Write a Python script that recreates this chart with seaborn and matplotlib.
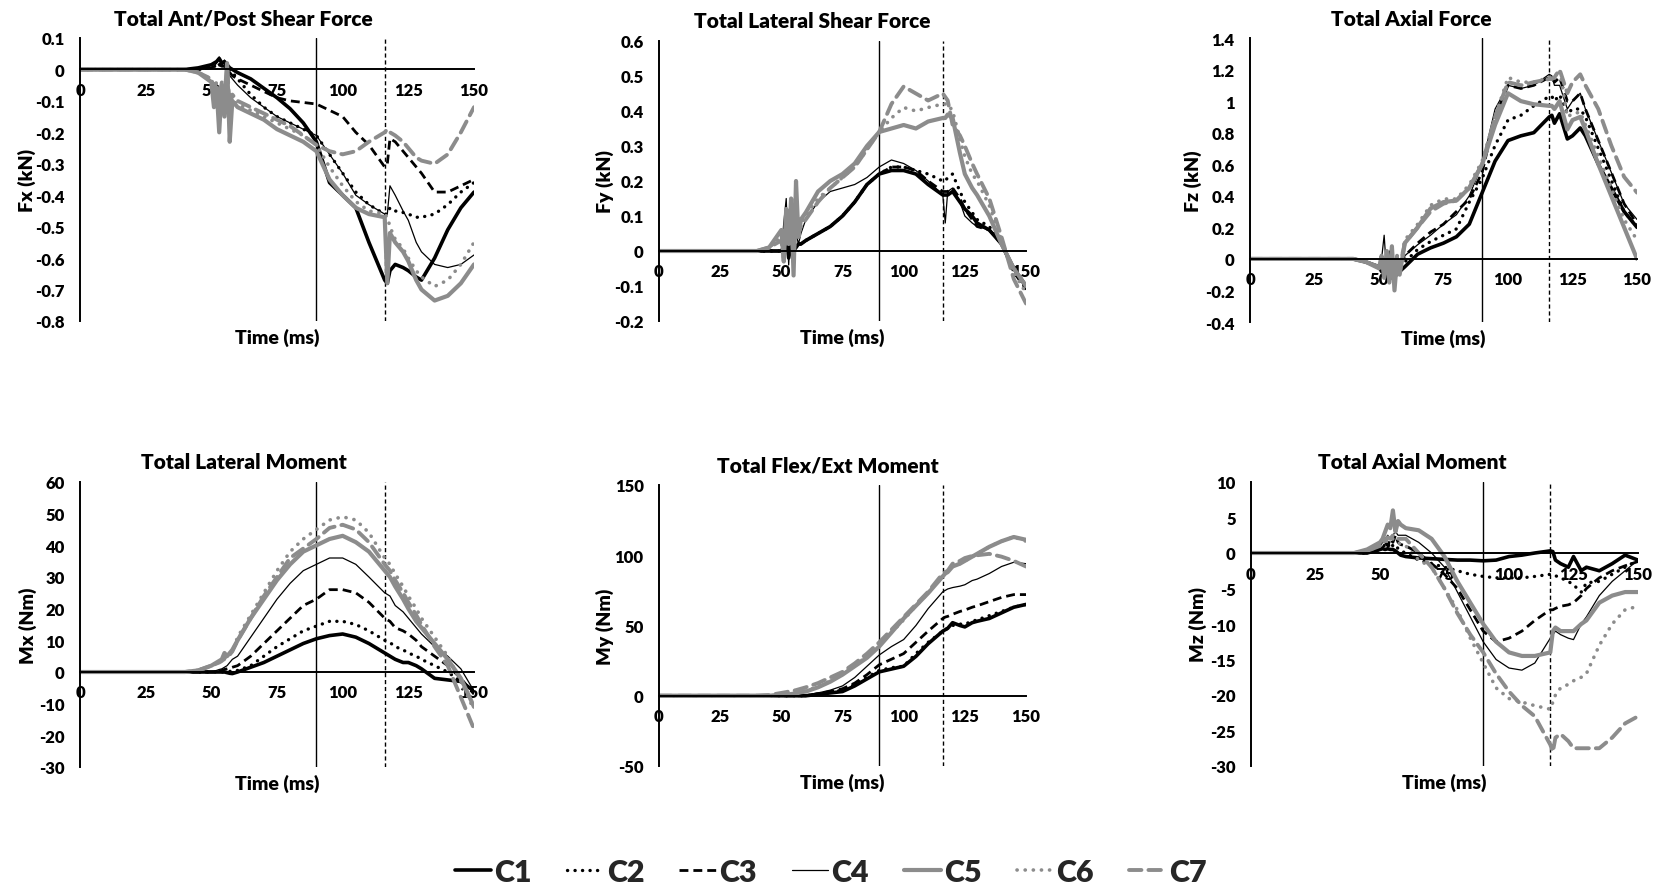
import matplotlib
matplotlib.use("Agg")
import matplotlib.pyplot as plt
import matplotlib.transforms as mtransforms
from matplotlib.lines import Line2D
import seaborn as sns

sns.set_theme(style="white")
plt.rcParams["font.family"] = ["Lato", "DejaVu Sans"]
plt.rcParams["font.weight"] = "heavy"

# Sample times (ms) shared by every curve
T = [0, 40, 45,
     50, 51, 52, 53, 54, 55, 56, 57, 58,
     60, 65, 70, 75, 80, 85,
     90, 95, 100, 105, 110,
     116, 117, 118, 120, 123, 125, 128, 130,
     135, 140, 145, 150]

SERIES = ["C1", "C2", "C3", "C4", "C5", "C6", "C7"]

# ---- Total Ant/Post Shear Force, Fx (kN)
fx_c1 = [0, 0, 0.005, 0.015, 0.02, 0.025, 0.035, 0.02, 0.025, 0.015, 0.005, 0.0,
         -0.01, -0.03, -0.06, -0.09, -0.125, -0.17, -0.23, -0.36, -0.40, -0.44, -0.55,
         -0.67, -0.68, -0.64, -0.62, -0.63, -0.64, -0.66, -0.67, -0.60, -0.51, -0.44, -0.39]
fx_c2 = [0, 0, 0, 0.005, 0.01, 0.01, 0.02, 0.01, 0.02, 0.01, 0, -0.01,
         -0.03, -0.08, -0.12, -0.15, -0.17, -0.19, -0.21, -0.27, -0.33, -0.39, -0.43,
         -0.46, -0.46, -0.44, -0.45, -0.455, -0.46, -0.47, -0.47, -0.46, -0.43, -0.39, -0.36]
fx_c3 = [0, 0, 0, 0.005, 0.01, 0.01, 0.015, 0.01, 0.01, 0.0, -0.01, -0.02,
         -0.03, -0.05, -0.07, -0.09, -0.10, -0.105, -0.11, -0.13, -0.15, -0.20, -0.24,
         -0.31, -0.30, -0.22, -0.23, -0.26, -0.28, -0.31, -0.33, -0.39, -0.39, -0.37, -0.35]
fx_c4 = [0, 0, 0, 0.005, 0.01, 0.02, 0.04, 0.01, 0.03, 0.0, -0.02, -0.03,
         -0.05, -0.09, -0.12, -0.15, -0.17, -0.19, -0.21, -0.27, -0.33, -0.40, -0.43,
         -0.46, -0.46, -0.37, -0.40, -0.45, -0.48, -0.55, -0.58, -0.62, -0.63, -0.62, -0.59]
fx_c5 = [0, 0, -0.01, -0.04, -0.12, -0.06, -0.20, -0.05, -0.15, 0.02, -0.23, -0.10,
         -0.12, -0.14, -0.16, -0.19, -0.21, -0.23, -0.26, -0.35, -0.40, -0.44, -0.46,
         -0.47, -0.68, -0.52, -0.55, -0.58, -0.61, -0.67, -0.70, -0.735, -0.72, -0.68, -0.62]
fx_c6 = [0, 0, -0.01, -0.03, -0.08, -0.05, -0.15, -0.04, -0.12, 0.0, -0.18, -0.10,
         -0.11, -0.13, -0.15, -0.17, -0.19, -0.21, -0.24, -0.31, -0.37, -0.42, -0.45,
         -0.46, -0.47, -0.50, -0.54, -0.57, -0.60, -0.64, -0.66, -0.69, -0.67, -0.62, -0.55]
fx_c7 = [0, 0, -0.01, -0.03, -0.06, -0.04, -0.10, -0.04, -0.08, 0.01, -0.12, -0.08,
         -0.10, -0.12, -0.14, -0.16, -0.18, -0.21, -0.24, -0.26, -0.27, -0.26, -0.23,
         -0.20, -0.19, -0.20, -0.21, -0.23, -0.25, -0.28, -0.29, -0.30, -0.27, -0.20, -0.12]

# ---- Total Lateral Shear Force, Fy (kN)
fy_c1 = [0, 0, 0, 0, 0.01, 0.05, -0.02, 0.02, 0.0, 0.01, 0.02, 0.02,
         0.03, 0.05, 0.07, 0.10, 0.14, 0.19, 0.22, 0.23, 0.23, 0.22, 0.19,
         0.16, 0.16, 0.16, 0.17, 0.14, 0.12, 0.10, 0.08, 0.06, 0.02, -0.05, -0.10]
fy_c2 = [0, 0, 0, 0, 0.01, 0.03, 0, 0.02, 0.01, 0.01, 0.02, 0.02,
         0.03, 0.05, 0.07, 0.10, 0.14, 0.19, 0.22, 0.24, 0.24, 0.23, 0.22,
         0.20, 0.20, 0.21, 0.22, 0.17, 0.14, 0.11, 0.09, 0.07, 0.02, -0.05, -0.11]
fy_c3 = [0, 0, 0, 0, 0.01, 0.04, -0.01, 0.02, 0.0, 0.01, 0.02, 0.02,
         0.03, 0.05, 0.07, 0.10, 0.14, 0.19, 0.22, 0.24, 0.24, 0.23, 0.20,
         0.17, 0.17, 0.17, 0.18, 0.15, 0.12, 0.09, 0.07, 0.06, 0.02, -0.06, -0.11]
fy_c4 = [0, 0, 0, 0, 0.08, 0.15, -0.04, 0.10, -0.02, 0.05, 0.02, 0.05,
         0.09, 0.14, 0.17, 0.18, 0.19, 0.21, 0.24, 0.26, 0.25, 0.23, 0.20,
         0.16, 0.08, 0.17, 0.18, 0.14, 0.10, 0.08, 0.07, 0.06, 0.02, -0.05, -0.11]
fy_c5 = [0, 0, 0.01, 0.06, -0.03, 0.12, 0.02, 0.15, -0.07, 0.20, 0.04, 0.09,
         0.11, 0.17, 0.20, 0.22, 0.25, 0.30, 0.34, 0.35, 0.36, 0.35, 0.37,
         0.38, 0.38, 0.39, 0.38, 0.28, 0.22, 0.18, 0.16, 0.10, 0.02, -0.05, -0.10]
fy_c6 = [0, 0, 0.01, 0.04, -0.02, 0.08, 0.02, 0.10, -0.04, 0.14, 0.05, 0.08,
         0.10, 0.15, 0.18, 0.21, 0.24, 0.29, 0.34, 0.38, 0.41, 0.40, 0.41,
         0.42, 0.42, 0.42, 0.40, 0.32, 0.27, 0.22, 0.20, 0.13, 0.03, -0.06, -0.12]
fy_c7 = [0, 0, 0.01, 0.03, -0.02, 0.07, 0.02, 0.09, -0.03, 0.12, 0.05, 0.07,
         0.09, 0.14, 0.18, 0.21, 0.24, 0.29, 0.34, 0.42, 0.47, 0.45, 0.43,
         0.45, 0.44, 0.43, 0.36, 0.33, 0.30, 0.25, 0.22, 0.15, 0.04, -0.08, -0.15]

# ---- Total Axial Force, Fz (kN)
fz_c1 = [0, 0, -0.02, -0.05, -0.08, -0.03, -0.10, -0.05, -0.12, -0.06, -0.10, -0.08,
         -0.05, 0.03, 0.07, 0.10, 0.14, 0.22, 0.42, 0.62, 0.75, 0.78, 0.80,
         0.90, 0.91, 0.86, 0.92, 0.76, 0.78, 0.83, 0.78, 0.60, 0.45, 0.30, 0.20]
fz_c2 = [0, 0, -0.02, -0.05, -0.07, -0.02, -0.10, -0.04, -0.10, -0.05, -0.08, -0.06,
         -0.02, 0.06, 0.11, 0.15, 0.19, 0.36, 0.51, 0.72, 0.88, 0.91, 0.97,
         1.03, 1.03, 1.00, 1.04, 0.92, 0.95, 0.95, 0.90, 0.70, 0.50, 0.30, 0.20]
fz_c3 = [0, 0, -0.02, -0.05, -0.07, -0.02, -0.10, -0.04, -0.10, -0.04, -0.06, -0.04,
         0.02, 0.10, 0.17, 0.22, 0.30, 0.38, 0.55, 0.90, 1.10, 1.08, 1.10,
         1.15, 1.15, 1.12, 1.15, 1.00, 1.00, 1.05, 0.95, 0.75, 0.55, 0.35, 0.22]
fz_c4 = [0, 0, -0.02, -0.05, 0.0, 0.15, -0.10, 0.05, -0.12, 0.0, -0.08, -0.04,
         0.02, 0.09, 0.15, 0.22, 0.28, 0.40, 0.60, 0.95, 1.10, 1.08, 1.10,
         1.17, 1.16, 1.10, 1.10, 0.95, 1.00, 1.05, 0.95, 0.75, 0.55, 0.35, 0.25]
fz_c5 = [0, 0, -0.02, -0.06, 0.02, -0.12, 0.05, -0.15, 0.08, -0.20, 0.0, -0.10,
         0.10, 0.20, 0.32, 0.36, 0.37, 0.45, 0.60, 0.85, 1.05, 1.00, 0.98,
         0.97, 0.97, 0.95, 1.00, 0.82, 0.88, 0.90, 0.82, 0.60, 0.40, 0.20, 0.0]
fz_c6 = [0, 0, -0.02, -0.05, 0.0, -0.10, 0.03, -0.12, 0.05, -0.16, 0.02, -0.06,
         0.12, 0.22, 0.34, 0.38, 0.38, 0.47, 0.62, 0.90, 1.15, 1.12, 1.12,
         1.15, 1.15, 1.15, 1.20, 0.90, 0.92, 0.93, 0.85, 0.65, 0.45, 0.25, 0.12]
fz_c7 = [0, 0, -0.02, -0.05, 0.0, -0.10, 0.03, -0.12, 0.05, -0.15, 0.02, -0.06,
         0.10, 0.20, 0.30, 0.35, 0.37, 0.45, 0.60, 0.90, 1.12, 1.10, 1.12,
         1.14, 1.14, 1.15, 1.20, 1.05, 1.12, 1.17, 1.10, 0.95, 0.72, 0.52, 0.42]

# ---- Total Lateral Moment, Mx (Nm)
mx_c1 = [0, 0, 0, 0, 0, 0, 0, 0, 0, -0.2, -0.4, -0.5,
         0, 1.5, 3, 5, 7, 9, 10.5, 11.5, 12, 11, 9,
         6, 5.5, 5, 4, 3, 3, 2, 1, -2, -2.5, -3, -6]
mx_c2 = [0, 0, 0, 0, 0, 0, 0, 0, 0, 0, 0.2, 0.3,
         0.5, 2, 5, 8, 10.5, 13, 14.5, 16, 16, 15, 13,
         10, 9.7, 9.3, 8, 7, 6, 5, 4, 2, 0, -3, -6]
mx_c3 = [0, 0, 0, 0, 0, 0.2, 0.3, 0.5, 0.8, 1.0, 1.2, 1.5,
         2, 5, 9, 13, 17, 21, 23, 26, 26, 25, 22,
         17, 16.5, 16, 14, 13, 12, 10, 8, 5, 2, -2, -7]
mx_c4 = [0, 0, 0, 0.2, 0.3, 0.5, 0.8, 1, 1.5, 2, 3, 4,
         5, 11, 17, 23, 28, 32, 34, 36, 36, 34, 30,
         25, 24.5, 24, 21, 19, 17, 14, 12, 8, 5, 1, -6]
mx_c5 = [0, 0, 0.5, 2, 2.5, 3, 3.5, 4, 6, 5, 6, 7,
         10, 17, 23, 29, 34, 38, 40, 42, 43, 41, 38,
         32, 31, 30, 27, 23, 20, 16, 14, 9, 4, -2, -11]
mx_c6 = [0, 0, 0.6, 2, 2.3, 2.7, 3, 3.5, 4, 4.5, 5.5, 6.5,
         11, 18, 25, 32, 38, 42, 45, 48, 49, 48, 44,
         36, 35, 34, 31, 27, 24, 20, 17, 11, 5, -3, -12]
mx_c7 = [0, 0, 0.5, 2, 2.3, 2.7, 3, 3.5, 4.5, 4.5, 5.5, 6.5,
         10, 17, 24, 30, 36, 39, 42, 45.5, 46.5, 45, 41,
         34, 33, 32, 29, 25, 22, 18, 15, 8, 2, -8, -18]

# ---- Total Flex/Ext Moment, My (Nm)
my_c1 = [0, 0, 0, 0, 0, 0, 0, 0, 0, 0, 0, 0,
         0, 1, 2, 3, 7, 12, 17, 19, 21, 28, 37,
         46, 47, 48, 52, 50, 49, 52, 53, 55, 59, 63, 65]
my_c2 = [0, 0, 0, 0, 0, 0, 0, 0, 0, 0, 0, 0,
         0, 1, 2.5, 4, 8, 13, 18, 20, 21, 30, 38,
         46, 47, 48, 50, 51, 51, 53, 54, 57, 60, 63, 65]
my_c3 = [0, 0, 0, 0, 0, 0, 0, 0, 0, 0, 0, 0,
         0, 1.5, 3, 5, 9, 15, 22, 26, 30, 38, 46,
         55, 56, 56.5, 58, 60, 61, 63, 64, 67, 70, 72, 72]
my_c4 = [0, 0, 0, 0, 0, 0, 0, 0, 0, 0, 0, 0.2,
         0.5, 2, 4, 7, 13, 21, 29, 35, 40, 50, 62,
         74, 75, 76, 77, 78, 79, 82, 83, 87, 92, 95, 94]
my_c5 = [0, 0, 0, 0.5, 0.6, 0.8, 1, 1.2, 1.5, 1.8, 2, 2.5,
         3, 6, 10, 15, 21, 27, 35, 45, 55, 64, 73,
         85, 87, 88, 92, 94, 96, 99, 101, 106, 110, 113, 111]
my_c6 = [0, 0, 0, 0.6, 0.7, 0.9, 1.1, 1.3, 1.6, 1.9, 2.2, 2.8,
         3.5, 6.5, 10.5, 15.5, 21.5, 28, 36, 45, 54, 64, 73,
         86, 88, 89, 92, 94, 96, 99, 101, 106, 110, 113, 110]
my_c7 = [0, 0, 0.5, 2, 2.3, 2.6, 3, 3.3, 3.6, 4, 4.5, 5,
         6, 9, 13, 17, 23, 30, 38, 47, 56, 65, 74,
         87, 88, 89, 94, 96, 98, 99.5, 100, 101, 99, 96, 92]

# ---- Total Axial Moment, Mz (Nm)
mz_c1 = [0, 0, 0, 0.5, 0.6, 0.5, 0.6, 0.5, 0.5, 0.3, 0, -0.3,
         -0.5, -0.7, -0.8, -0.9, -1, -1, -1.1, -1, -0.5, -0.3, 0,
         0.3, 0.2, -1, -1.5, -2, -0.5, -2.5, -2, -2.5, -1.5, -0.3, -1]
mz_c2 = [0, 0, 0, 0.5, 0.8, 1.2, 0.8, 1.5, 1, 1.2, 0.6, 0.3,
         0, -1, -1.5, -2, -2.5, -3, -3.3, -3.5, -3.5, -3.5, -3.3,
         -3, -3, -3.2, -3.5, -4, -4.5, -5.5, -4.2, -4, -3, -2, -1]
mz_c3 = [0, 0, 0, 0.5, 0.8, 1.5, 1, 2, 1.5, 2.5, 1.5, 1.2,
         1, 0, -1.5, -3, -5, -8, -11, -12.5, -12, -11, -9.5,
         -8, -8, -7.8, -7.5, -7.3, -7, -6, -5, -3.5, -2.5, -1.8, -1.2]
mz_c4 = [0, 0, 0, 1, 1.5, 2, 2.5, 2, 2.5, 3, 2.5, 2.5,
         2.5, 1.5, 0, -2, -5.5, -9, -12.5, -15, -16.2, -16.5, -15.5,
         -12, -11.5, -11, -11.5, -12, -12.2, -10, -9, -6, -4, -2.5, -1]
mz_c5 = [0, 0, 0.5, 1.5, 2, 3, 4, 3.5, 6, 3, 4.5, 4,
         3.5, 3.2, 2, -0.5, -4, -7, -10, -12.5, -14, -14.5, -14.5,
         -14, -11, -10.5, -11, -11, -11, -10, -9.5, -7, -6, -5.5, -5.5]
mz_c6 = [0, 0, 0.3, 1, 1.2, 1.5, 1.8, 1.6, 2, 1.8, 1.5, 1.2,
         1, -1, -2, -5, -8, -12, -15.5, -19, -20.5, -21, -21.5,
         -22, -21, -20, -19, -18.5, -18, -17.5, -17, -13, -10, -8, -7.5]
mz_c7 = [0, 0, 0.3, 1, 1.3, 1.8, 2.2, 2, 2.5, 2.2, 2, 2,
         2, 0, -2, -5, -8.5, -11.5, -14, -17, -19.5, -21.5, -23,
         -27, -28, -26, -25.5, -26.5, -27.5, -27.5, -27.5, -27.5, -26, -24, -23]

PANELS = [
    ("Total Ant/Post Shear Force", "Fx (kN)", [fx_c1, fx_c2, fx_c3, fx_c4, fx_c5, fx_c6, fx_c7],
     (-0.8, 0.1), [-0.8, -0.7, -0.6, -0.5, -0.4, -0.3, -0.2, -0.1, 0, 0.1]),
    ("Total Lateral Shear Force", "Fy (kN)", [fy_c1, fy_c2, fy_c3, fy_c4, fy_c5, fy_c6, fy_c7],
     (-0.2, 0.6), [-0.2, -0.1, 0, 0.1, 0.2, 0.3, 0.4, 0.5, 0.6]),
    ("Total Axial Force", "Fz (kN)", [fz_c1, fz_c2, fz_c3, fz_c4, fz_c5, fz_c6, fz_c7],
     (-0.4, 1.4), [-0.4, -0.2, 0, 0.2, 0.4, 0.6, 0.8, 1, 1.2, 1.4]),
    ("Total Lateral Moment", "Mx (Nm)", [mx_c1, mx_c2, mx_c3, mx_c4, mx_c5, mx_c6, mx_c7],
     (-30, 60), [-30, -20, -10, 0, 10, 20, 30, 40, 50, 60]),
    ("Total Flex/Ext Moment", "My (Nm)", [my_c1, my_c2, my_c3, my_c4, my_c5, my_c6, my_c7],
     (-50, 150), [-50, 0, 50, 100, 150]),
    ("Total Axial Moment", "Mz (Nm)", [mz_c1, mz_c2, mz_c3, mz_c4, mz_c5, mz_c6, mz_c7],
     (-30, 10), [-30, -25, -20, -15, -10, -5, 0, 5, 10]),
]

X_TICKS = [0, 25, 50, 75, 100, 125, 150]
T_MARK_SOLID = 90
T_MARK_DASHED = 116

BLACK = "#000000"
GREY = "#8c8c8c"
DOT = (0, (0.05, 2.2))
DASH = (0, (3.2, 1.8))
STYLES = {
    "C1": dict(color=BLACK, linewidth=2.6, linestyle="-"),
    "C2": dict(color=BLACK, linewidth=2.4, linestyle=DOT, dash_capstyle="round"),
    "C3": dict(color=BLACK, linewidth=2.0, linestyle=DASH),
    "C4": dict(color=BLACK, linewidth=0.9, linestyle="-"),
    "C5": dict(color=GREY, linewidth=3.0, linestyle="-"),
    "C6": dict(color=GREY, linewidth=2.6, linestyle=DOT, dash_capstyle="round"),
    "C7": dict(color=GREY, linewidth=2.8, linestyle=DASH, dash_capstyle="round"),
}

W, H = 1671, 887
fig = plt.figure(figsize=(W / 100, H / 100), dpi=100)

# axes rectangles in pixels: left, top, right, bottom
RECTS = [
    (80, 39, 474, 322),
    (659, 42, 1026, 322),
    (1250, 39, 1637, 323),
    (80, 483, 474, 768),
    (659, 486, 1026, 767),
    (1251, 483, 1638, 767),
]
TITLE_X = [0.414, 0.417, 0.416, 0.416, 0.46, 0.416]
YLABEL_OFF = [53, 54, 57, 52, 54, 53]

for (title, ylab, curves, ylim, yticks), (l, t, r, b), tx, yoff in zip(PANELS, RECTS, TITLE_X, YLABEL_OFF):
    ax = fig.add_axes([l / W, 1 - b / H, (r - l) / W, (b - t) / H])
    for name, ys in zip(SERIES, curves):
        sns.lineplot(x=T, y=ys, ax=ax, **STYLES[name])
    ax.axvline(T_MARK_SOLID, color=BLACK, linewidth=1.0, zorder=1)
    ax.axvline(T_MARK_DASHED, color=BLACK, linewidth=1.0, linestyle=(0, (3, 2)), zorder=1)

    ax.set_xlim(0, 150)
    ax.set_ylim(*ylim)
    ax.set_xticks(X_TICKS)
    ax.set_yticks(yticks)
    ax.set_yticklabels([f"{v:g}" for v in yticks])
    ax.spines["top"].set_visible(False)
    ax.spines["right"].set_visible(False)
    ax.spines["bottom"].set_position(("data", 0))
    for s in ("left", "bottom"):
        ax.spines[s].set_color(BLACK)
        ax.spines[s].set_linewidth(1.4)
    ax.tick_params(axis="both", direction="out", length=4, width=1.2, color=BLACK,
                   labelsize=12, labelcolor=BLACK)
    ax.tick_params(axis="x", pad=5)
    ax.tick_params(axis="y", pad=7)
    for lbl in ax.get_xticklabels() + ax.get_yticklabels():
        lbl.set_fontweight("heavy")

    ax.set_xlabel("Time (ms)", fontsize=14, fontweight="heavy", color=BLACK)
    ax.xaxis.set_label_coords(0.5, -16 / (b - t))
    ax.xaxis.label.set_verticalalignment("center")
    ax.set_ylabel(ylab, fontsize=14, fontweight="heavy", color=BLACK)
    ax.yaxis.set_label_coords(-yoff / (r - l), 0.5)
    ax.yaxis.label.set_verticalalignment("center")

    off = mtransforms.ScaledTranslation(0, 20 / 100, fig.dpi_scale_trans)
    ax.text(tx, 1.0, title, transform=ax.transAxes + off, ha="center", va="center",
            fontsize=15, fontweight="heavy", color=BLACK)
    ax.set_facecolor("white")

handles = [Line2D([], [], **STYLES[n]) for n in SERIES]
fig.legend(handles, SERIES, loc="center", bbox_to_anchor=(0.497, 14 / H), ncol=7,
           frameon=False, prop=dict(size=22, weight="heavy"), handlelength=1.2,
           handletextpad=0.1, columnspacing=1.15)

fig.savefig("out.png", dpi=100, facecolor="white")
